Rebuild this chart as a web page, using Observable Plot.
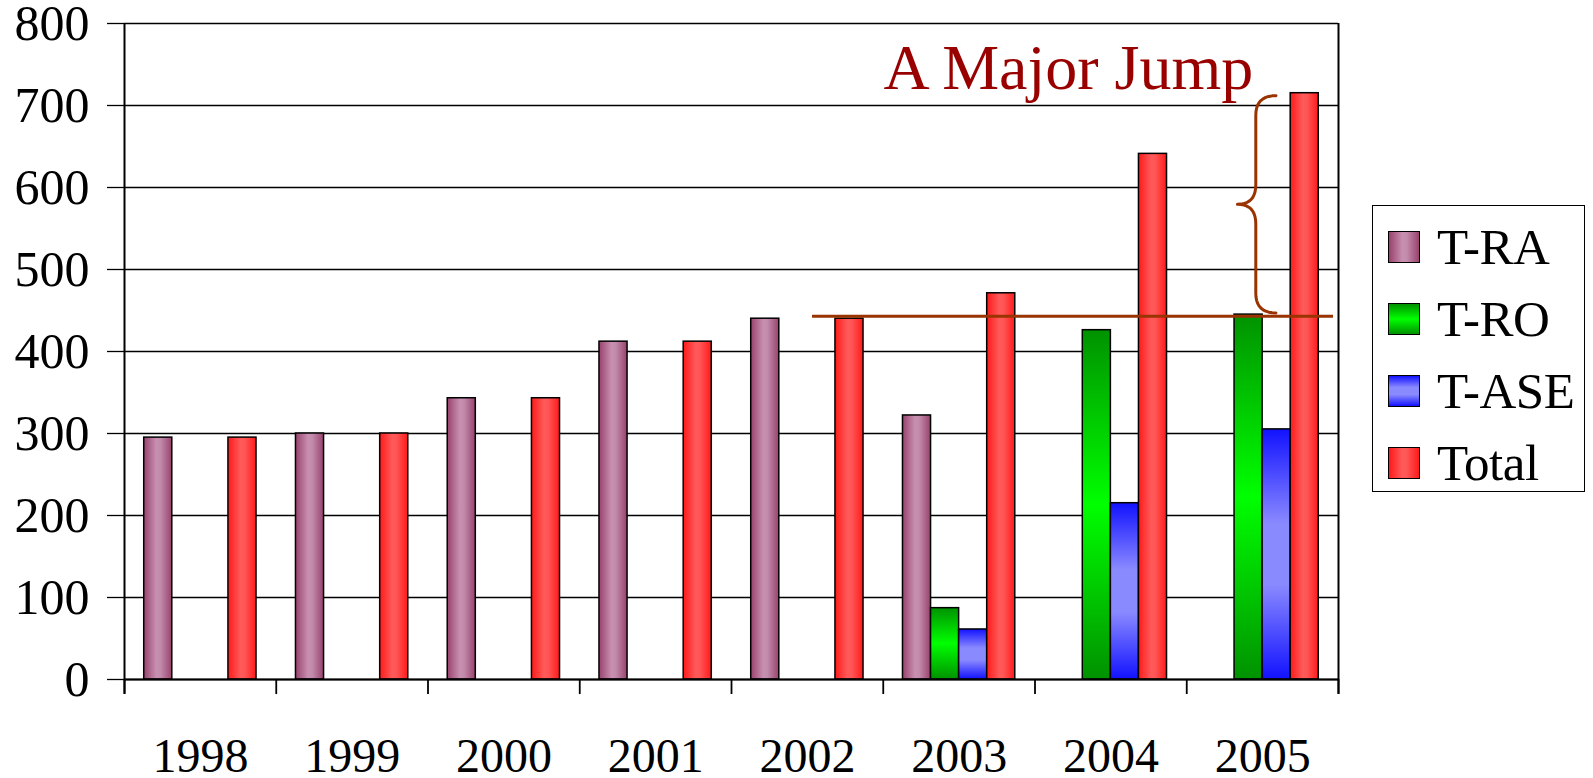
<!DOCTYPE html>
<html>
<head>
<meta charset="utf-8">
<script src="https://cdn.jsdelivr.net/npm/d3@7"></script>
<script src="https://cdn.jsdelivr.net/npm/@observablehq/plot@0.6"></script>
<style>
  html, body { margin: 0; padding: 0; background: #fff; overflow: hidden; }
  #wrap { position: relative; width: 1593px; height: 778px; }
  #wrap svg { display: block; }
  #legend {
    position: absolute; left: 1372px; top: 205px; width: 211px; height: 285px;
    border: 1.5px solid #000; background: #fff; box-sizing: content-box;
    font-family: "Liberation Serif", "Times New Roman", serif; font-size: 51px; color: #000;
  }
  .row { position: absolute; left: 0; height: 40px; display: flex; align-items: center; }
  .sw { width: 30px; height: 30px; border: 1.5px solid #000; margin-left: 15px; margin-right: 17px; }
  .lab { line-height: 1; letter-spacing: -0.5px; }
</style>
</head>
<body>
<div id="wrap"><div id="legend"></div></div>
<script>
// ---- data ----
const years = ["1998", "1999", "2000", "2001", "2002", "2003", "2004", "2005"];
const seriesNames = ["T-RA", "T-RO", "T-ASE", "Total"];
const tRA   = [295, 300, 343, 412, 440, 322, null, null];
const tRO   = [null, null, null, null, null, 87, 426, 445];
const tASE  = [null, null, null, null, null, 61, 215, 305];
const total = [295, 300, 343, 412, 440, 471, 641, 715];
const yTicks = [0, 100, 200, 300, 400, 500, 600, 700, 800];
const annotationText = "A Major Jump";
const jumpFrom = 443;   // level of the horizontal reference line
const jumpTo = 712;     // top of the brace (2005 total)

// ---- layout helpers ----
const seriesValues = [tRA, tRO, tASE, total];
const barW = 0.185;
const groupOffset = (1 - 4 * barW) / 2;
const rows = [];
seriesValues.forEach((vals, k) => vals.forEach((v, i) => {
  if (v != null) rows.push({series: seriesNames[k], k, i, v});
}));

const gradIds = {"T-RA": "gRA", "T-RO": "gRO", "T-ASE": "gASE", "Total": "gTot"};

// brace shape (annotation) in data units
function brace(xv, xTip, xEnd, yTop, yBot, ry) {
  const yMid = (yTop + yBot) / 2;
  const pts = [];
  const quad = (p0, p1, p2) => {
    for (let t = 0; t <= 1.0001; t += 0.1) {
      const a = (1 - t) * (1 - t), b = 2 * (1 - t) * t, c = t * t;
      pts.push([a * p0[0] + b * p1[0] + c * p2[0], a * p0[1] + b * p1[1] + c * p2[1]]);
    }
  };
  quad([xEnd, yTop], [xv, yTop], [xv, yTop - ry]);
  quad([xv, yMid + ry], [xv, yMid], [xTip, yMid]);
  quad([xTip, yMid], [xv, yMid], [xv, yMid - ry]);
  quad([xv, yBot + ry], [xv, yBot], [xEnd, yBot]);
  return pts;
}
const bracePts = brace(7.455, 7.334, 7.588, jumpTo, jumpFrom + 4, 24);

const barMarks = seriesNames.map(name => Plot.rectY(rows.filter(d => d.series === name), {
  x1: d => d.i + groupOffset + d.k * barW,
  x2: d => d.i + groupOffset + (d.k + 1) * barW,
  y: "v",
  fill: `url(#${gradIds[name]})`,
  stroke: "#000",
  strokeWidth: 1.5
}));

const chart = Plot.plot({
  width: 1593,
  height: 778,
  marginLeft: 124,
  marginRight: 255,
  marginTop: 23,
  marginBottom: 99,
  style: {fontFamily: "'Liberation Serif', 'Times New Roman', serif", background: "#fff", color: "#000", overflow: "visible"},
  x: {type: "linear", domain: [0, years.length], label: null},
  y: {domain: [0, 800], label: null},
  marks: [
    Plot.gridY(yTicks, {stroke: "#000", strokeOpacity: 1, strokeWidth: 1.3}),
    Plot.axisY(yTicks, {label: null, tickSize: 17, tickPadding: 18, fontSize: 50, stroke: "#000", strokeWidth: 1.3, tickFormat: d => String(d)}),
    Plot.axisX(d3.range(years.length + 1), {label: null, tickSize: 15, tickFormat: () => "", stroke: "#000", strokeWidth: 1.8}),
    Plot.axisX(years.map((_, i) => i + 0.5), {label: null, tickSize: 0, tickPadding: 58, fontSize: 48, tickFormat: d => years[Math.floor(d)]}),
    Plot.ruleX([0, years.length], {y1: -18, y2: 800, stroke: "#000", strokeWidth: 2}),
    ...barMarks,
    Plot.ruleY([0], {stroke: "#000", strokeWidth: 2}),
    Plot.ruleY([jumpFrom], {x1: 4.534, x2: 7.967, stroke: "#993300", strokeWidth: 3.2}),
    Plot.line(bracePts, {x: d => d[0], y: d => d[1], stroke: "#993300", strokeWidth: 3, curve: "linear"}),
    Plot.text([annotationText], {x: 6.22, y: 745, text: d => d, fill: "#990000", fontSize: 64, textAnchor: "middle", lineAnchor: "middle"})
  ]
});

// gradients
const defs = d3.select(chart).insert("defs", ":first-child");
function grad(id, vertical, stops) {
  const g = defs.append("linearGradient").attr("id", id)
    .attr("x1", 0).attr("y1", 0).attr("x2", vertical ? 0 : 1).attr("y2", vertical ? 1 : 0);
  stops.forEach(([o, c]) => g.append("stop").attr("offset", o).attr("stop-color", c));
}
const gradStops = {
  gRA: [false, [["0%", "#98426d"], ["45%", "#c890b0"], ["60%", "#c28aab"], ["100%", "#98426d"]]],
  gRO: [true, [["0%", "#009200"], ["50%", "#00ff00"], ["100%", "#009200"]]],
  gASE: [true, [["0%", "#1212ff"], ["38%", "#8a8aff"], ["62%", "#8a8aff"], ["100%", "#1212ff"]]],
  gTot: [false, [["0%", "#ff1a1a"], ["45%", "#ff5a5a"], ["60%", "#ff5555"], ["100%", "#ff1a1a"]]]
};
Object.entries(gradStops).forEach(([id, [v, s]]) => grad(id, v, s));

document.getElementById("wrap").prepend(chart);

// legend
const cssGrad = id => {
  const [v, s] = gradStops[id];
  return `linear-gradient(${v ? "to bottom" : "to right"}, ${s.map(([o, c]) => `${c} ${o}`).join(", ")})`;
};
const legend = document.getElementById("legend");
seriesNames.forEach((name, k) => {
  const row = document.createElement("div");
  row.className = "row";
  row.style.top = (21 + k * 72) + "px";
  const sw = document.createElement("div");
  sw.className = "sw";
  sw.style.background = cssGrad(gradIds[name]);
  const lab = document.createElement("span");
  lab.className = "lab";
  lab.textContent = name;
  row.append(sw, lab);
  legend.append(row);
});
</script>
</body>
</html>
